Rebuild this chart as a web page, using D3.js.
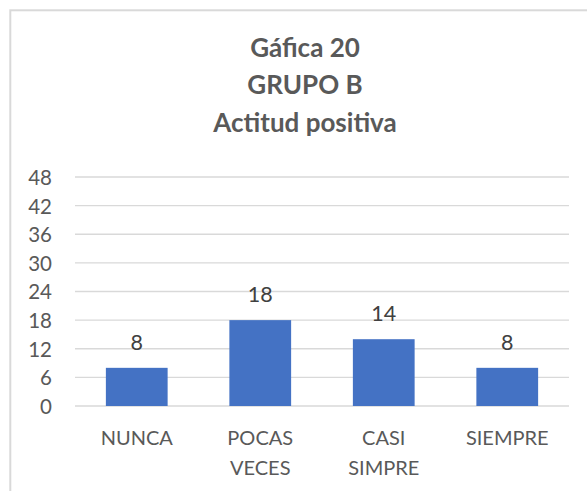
<!DOCTYPE html>
<html>
<head>
<meta charset="utf-8">
<script src="https://cdn.jsdelivr.net/npm/d3@7"></script>
<style>
  html, body { margin: 0; padding: 0; background: #fff; }
  svg { display: block; }
  text { font-family: Lato, "Open Sans", sans-serif; }
</style>
</head>
<body>
<svg id="chart" width="587" height="491"></svg>
<script>
const categories = [["NUNCA"], ["POCAS", "VECES"], ["CASI", "SIMPRE"], ["SIEMPRE"]];
const categoryKeys = ["NUNCA", "POCAS VECES", "CASI SIMPRE", "SIEMPRE"];
const values = [8, 18, 14, 8];
const yTicks = [0, 6, 12, 18, 24, 30, 36, 42, 48];
const titleLines = ["Gáfica 20", "GRUPO B", "Actitud positiva"];

const svg = d3.select("#chart");
const W = 587, H = 491;

// chart border
svg.append("rect")
  .attr("x", 10.3).attr("y", 10.3)
  .attr("width", W + 20).attr("height", H + 20)
  .attr("fill", "#fff").attr("stroke", "#d9d9d9").attr("stroke-width", 2);

const plot = { left: 75, right: 569, top: 177, bottom: 406 };

const x = d3.scaleBand()
  .domain(categoryKeys)
  .range([plot.left, plot.right])
  .paddingInner(0.5).paddingOuter(0.25);

const y = d3.scaleLinear()
  .domain([0, 48])
  .range([plot.bottom, plot.top]);

// title
const title = svg.append("text")
  .attr("text-anchor", "middle")
  .attr("fill", "#595959")
  .attr("font-weight", "bold")
  .attr("font-family", "'Open Sans', Lato, sans-serif")
  .attr("font-size", 26);
titleLines.forEach((t, i) => {
  title.append("tspan").attr("x", 305).attr("y", 56.5 + i * 37.7).text(t);
});

// gridlines
svg.append("g")
  .selectAll("line")
  .data(yTicks)
  .join("line")
  .attr("x1", plot.left).attr("x2", plot.right)
  .attr("y1", d => y(d)).attr("y2", d => y(d))
  .attr("stroke", "#d9d9d9").attr("stroke-width", 1.3);

// y axis labels
const yAxis = d3.axisLeft(y).tickValues(yTicks).tickSize(0).tickPadding(0);
const gy = svg.append("g").attr("transform", `translate(52,0)`).call(yAxis);
gy.select(".domain").remove();
gy.selectAll("text")
  .attr("fill", "#595959")
  .attr("font-size", 20.5)
  .attr("font-family", "Lato, 'Open Sans', sans-serif")
  .attr("dy", "0.36em");

// bars
svg.append("g")
  .selectAll("rect")
  .data(values)
  .join("rect")
  .attr("x", (d, i) => x(categoryKeys[i]))
  .attr("y", d => y(d))
  .attr("width", x.bandwidth())
  .attr("height", d => y(0) - y(d))
  .attr("fill", "#4472c4");

// data labels
svg.append("g")
  .selectAll("text")
  .data(values)
  .join("text")
  .attr("x", (d, i) => x(categoryKeys[i]) + x.bandwidth() / 2)
  .attr("y", d => y(d) - 18)
  .attr("text-anchor", "middle")
  .attr("fill", "#404040")
  .attr("font-size", 21.5)
  .text(d => d);

// category labels
const cat = svg.append("g")
  .selectAll("text")
  .data(categories)
  .join("text")
  .attr("text-anchor", "middle")
  .attr("fill", "#595959")
  .attr("font-size", 20);
cat.each(function (lines, i) {
  const cx = x(categoryKeys[i]) + x.bandwidth() / 2;
  d3.select(this).selectAll("tspan")
    .data(lines)
    .join("tspan")
    .attr("x", cx)
    .attr("y", (d, j) => 445 + j * 30)
    .text(d => d);
});
</script>
</body>
</html>
